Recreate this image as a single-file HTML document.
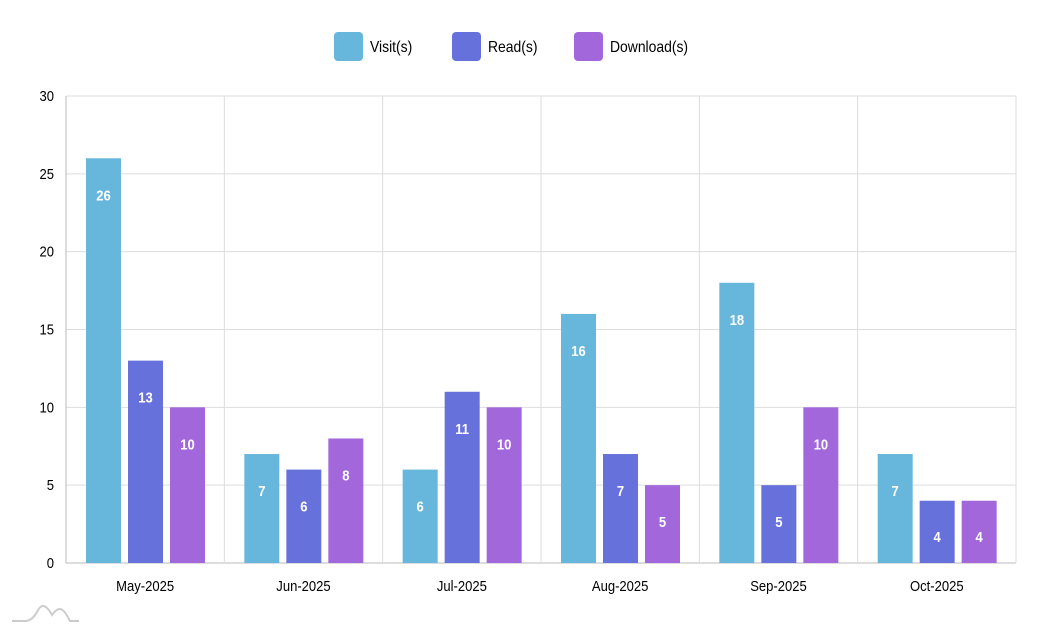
<!DOCTYPE html>
<html><head><meta charset="utf-8"><style>
html,body{margin:0;padding:0;background:#fff;width:1042px;height:638px;overflow:hidden}
svg text{font-family:"Liberation Sans Narrow","Liberation Sans",sans-serif}
</style></head><body>
<svg id="chart" width="1042" height="638" xmlns="http://www.w3.org/2000/svg"></svg>
<script>
const categories=["May-2025","Jun-2025","Jul-2025","Aug-2025","Sep-2025","Oct-2025"];
const visits=[26,7,6,16,18,7];
const reads=[13,6,11,7,5,4];
const downloads=[10,8,10,5,10,4];
const yTicks=[0,5,10,15,20,25,30];
const seriesNames=["Visit(s)","Read(s)","Download(s)"];
const colors=["#67b7dc","#6771dc","#a367dc"];
const NS="http://www.w3.org/2000/svg";
const svg=document.getElementById('chart');
const L=66,R=1016,T=96,B=563,yMax=30;
const catW=(R-L)/categories.length;
function y(v){return B-(v/yMax)*(B-T);}
function x(i){return L+i*catW;}
function mk(tag,attrs,parent){const e=document.createElementNS(NS,tag);for(const k in attrs)e.setAttribute(k,attrs[k]);(parent||svg).appendChild(e);return e;}
function squeeze(t,ax){t.setAttribute('transform','translate('+ax+',0) scale(0.87,1) translate('+(-ax)+',0)');}
// grid
yTicks.forEach(t=>{
  const l=mk('line',{x1:L,x2:R,y1:y(t),y2:y(t),stroke:t===0?'#bbb':'#ddd','stroke-width':1});
  
  
  const tx=mk('text',{x:L-12,y:y(t)+5,'text-anchor':'end','font-size':15,fill:'#000'});
  tx.textContent=t;
  squeeze(tx,L-12);
  
  
});
for(let i=0;i<=categories.length;i++){
  const l=mk('line',{x1:x(i),x2:x(i),y1:T,y2:B,stroke:i===0?'#bbb':'#ddd','stroke-width':1});
  
  
}
const series=[visits,reads,downloads];
const bw=35,gap=7,pad=20;
categories.forEach((c,i)=>{
  series.forEach((s,j)=>{
    const bx=x(i)+pad+j*(bw+gap);
    const r=mk('rect',{x:bx,y:y(s[i]),width:bw,height:B-y(s[i]),fill:colors[j]});
    
    
    const t=mk('text',{x:bx+bw/2,y:Math.min(y(s[i])+42,B-21),'text-anchor':'middle','font-size':15,'font-weight':'bold',fill:'#fff'});
    t.textContent=s[i];
    squeeze(t,bx+bw/2);
    
    
  });
  const lab=mk('text',{x:x(i)+catW/2,y:B+28,'text-anchor':'middle','font-size':15,fill:'#000'});
  lab.textContent=c;
  squeeze(lab,x(i)+catW/2);
  
  
});
// legend
const legX=[334,452,574];
seriesNames.forEach((n,j)=>{
  const g=mk('g',{});
  
  
  mk('rect',{x:legX[j],y:32,width:29,height:29,rx:4,fill:colors[j]},g);
  const t=mk('text',{x:legX[j]+36,y:52,'font-size':16,fill:'#000'},g);
  t.textContent=n;
  squeeze(t,legX[j]+36);
});
// logo
const lg=mk('g',{fill:'none',stroke:'#ccc','stroke-width':2});


mk('path',{d:'M12 621 L25 621 Q32 621 37 612 Q40 606 43 606 Q47 606 52 615 Q56 609 60 609 Q64 609 70 621 L79 621'},lg);
</script>
</body></html>
